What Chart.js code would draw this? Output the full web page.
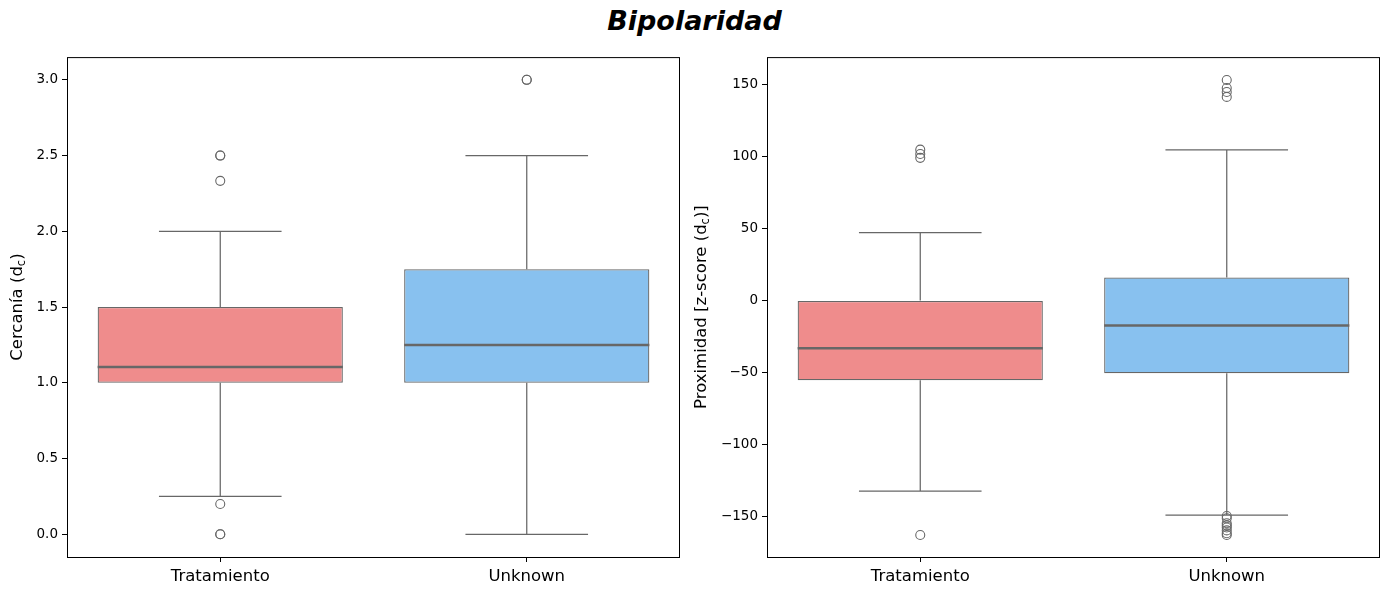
<!DOCTYPE html>
<html>
<head>
<meta charset="utf-8">
<script src="https://cdn.jsdelivr.net/npm/chart.js@4"></script>
<style>
  body { margin: 0; background: #fff; width: 1389px; height: 592px; overflow: hidden; position: relative; }
  #title { position: absolute; left: 0; top: 5px; width: 1389px; text-align: center; font: italic bold 27px 'DejaVu Sans'; color: #000; }
  .wrap { position: absolute; top: 45px; height: 547px; }
</style>
</head>
<body>
<div id="title">Bipolaridad</div>
<div class="wrap" style="left:0;width:690px"><canvas id="left"></canvas></div>
<div class="wrap" style="left:690px;width:700px"><canvas id="right"></canvas></div>
<script>
const categories = ['Tratamiento', 'Unknown']
const boxColors = ['#ef8c8c', '#88c1ef']
const lineColor = '#676767'

// Cercanía (d_c)
const cercTicks = [0.0, 0.5, 1.0, 1.5, 2.0, 2.5, 3.0]
const cercQ1 = [1.0, 1.0]
const cercQ3 = [1.5, 1.75]
const cercMedian = [1.105, 1.25]
const cercLow = [0.25, 0.0]
const cercHigh = [2.0, 2.5]
const cercOutTrat = [2.5, 2.5, 2.333, 0.2, 0.0, 0.0]
const cercOutUnk = [3.0, 3.0]

// Proximidad [z-score (d_c)]
const proxTicks = [-150, -100, -50, 0, 50, 100, 150]
const proxQ1 = [-55.5, -50.7]
const proxQ3 = [0.0, 16.0]
const proxMedian = [-33.3, -17.4]
const proxLow = [-132.6, -149.3]
const proxHigh = [47.2, 104.9]
const proxOutTrat = [105, 102, 99.3, -163.2]
const proxOutUnk = [153.5, 147.9, 145.1, 141.7, -150, -151.5, -155, -156.5, -158, -160, -162, -163.2]

const whiskerPlugin = {
  id: 'whiskers',
  afterDatasetsDraw(chart) {
    const { ctx, chartArea, scales } = chart
    const s = chart.options.plugins.whiskers
    const x = scales.x, y = scales.y
    const meta = chart.getDatasetMeta(0)
    ctx.save()
    ctx.strokeStyle = lineColor
    s.low.forEach((lo, i) => {
      const bar = meta.data[i]
      const cx = x.getPixelForValue(i)
      const half = bar.width / 2
      ctx.lineWidth = 1.25
      ctx.beginPath()
      ctx.moveTo(cx, y.getPixelForValue(s.q1[i])); ctx.lineTo(cx, y.getPixelForValue(lo))
      ctx.moveTo(cx, y.getPixelForValue(s.q3[i])); ctx.lineTo(cx, y.getPixelForValue(s.high[i]))
      ctx.moveTo(cx - half / 2, y.getPixelForValue(lo)); ctx.lineTo(cx + half / 2, y.getPixelForValue(lo))
      ctx.moveTo(cx - half / 2, y.getPixelForValue(s.high[i])); ctx.lineTo(cx + half / 2, y.getPixelForValue(s.high[i]))
      ctx.stroke()
      ctx.lineWidth = 2.5
      ctx.beginPath()
      ctx.moveTo(cx - half, y.getPixelForValue(s.median[i])); ctx.lineTo(cx + half, y.getPixelForValue(s.median[i]))
      ctx.stroke()
    })
    // frame
    ctx.strokeStyle = '#000'
    ctx.lineWidth = 1
    ctx.strokeRect(chartArea.left + 0.5, chartArea.top + 0.5, chartArea.width - 1, chartArea.height)
    // y title with subscript
    const [pre, sub, post] = s.title
    ctx.translate(s.titleX, (chartArea.top + chartArea.bottom) / 2)
    ctx.rotate(-Math.PI / 2)
    ctx.fillStyle = '#000'
    ctx.textBaseline = 'middle'
    ctx.font = '16.5px "DejaVu Sans"'
    const w1 = ctx.measureText(pre).width
    ctx.font = '11.5px "DejaVu Sans"'
    const w2 = ctx.measureText(sub).width
    ctx.font = '16.5px "DejaVu Sans"'
    const w3 = ctx.measureText(post).width
    let sx = -(w1 + w2 + w3) / 2
    ctx.fillText(pre, sx, 0)
    ctx.font = '11.5px "DejaVu Sans"'
    ctx.fillText(sub, sx + w1, 4)
    ctx.font = '16.5px "DejaVu Sans"'
    ctx.fillText(post, sx + w1 + w2, 0)
    ctx.restore()
  }
}

function outlierSet(cat, vals) {
  return {
    type: 'line',
    data: vals.map(v => ({ x: cat, y: v })),
    showLine: false,
    pointRadius: 4.5,
    pointBorderWidth: 1.1,
    pointBorderColor: lineColor,
    pointBackgroundColor: 'rgba(0,0,0,0)'
  }
}

function makeChart(id, q1, q3, median, low, high, outT, outU, yMin, yMax, tickVals, title, titleX, yWidth) {
  return new Chart(document.getElementById(id), {
    type: 'bar',
    data: {
      labels: categories,
      datasets: [{
        data: q1.map((v, i) => [v, q3[i]]),
        backgroundColor: boxColors,
        borderColor: lineColor,
        borderWidth: 1.25,
        borderSkipped: false,
        barPercentage: 0.8,
        categoryPercentage: 1
      },
      outlierSet(categories[0], outT),
      outlierSet(categories[1], outU)]
    },
    options: {
      responsive: true,
      maintainAspectRatio: false,
      animation: false,
      layout: { padding: { top: 9, right: 10, left: 0, bottom: 0 } },
      plugins: {
        legend: { display: false },
        tooltip: { enabled: false },
        whiskers: { q1, q3, median, low, high, title, titleX }
      },
      scales: {
        x: {
          grid: { offset: false, drawOnChartArea: false, drawTicks: true, tickLength: 5, color: '#000' },
          border: { display: false },
          ticks: { color: '#000', font: { family: 'DejaVu Sans', size: 16.5 }, padding: 5 },
          afterFit(s) { s.height = 35 }
        },
        y: {
          min: yMin, max: yMax,
          grid: { drawOnChartArea: false, drawTicks: true, tickLength: 5, color: '#000' },
          border: { display: false },
          afterBuildTicks(s) { s.ticks = tickVals.map(v => ({ value: v })) },
          ticks: {
            color: '#000', font: { family: 'DejaVu Sans', size: 13.5 }, padding: 4,
            callback(v) { return Number.isInteger(tickVals[1]) ? String(v).replace('-', '\u2212') : v.toFixed(1) }
          },
          afterFit(s) { s.width = yWidth }
        }
      }
    },
    plugins: [whiskerPlugin]
  })
}

makeChart('left', cercQ1, cercQ3, cercMedian, cercLow, cercHigh, cercOutTrat, cercOutUnk,
  -0.15, 3.15, cercTicks, ['Cercanía (d', 'c', ')'], 18, 67)
makeChart('right', proxQ1, proxQ3, proxMedian, proxLow, proxHigh, proxOutTrat, proxOutUnk,
  -178.5, 169.4, proxTicks, ['Proximidad [z-score (d', 'c', ')]'], 12, 77)
</script>
</body>
</html>
